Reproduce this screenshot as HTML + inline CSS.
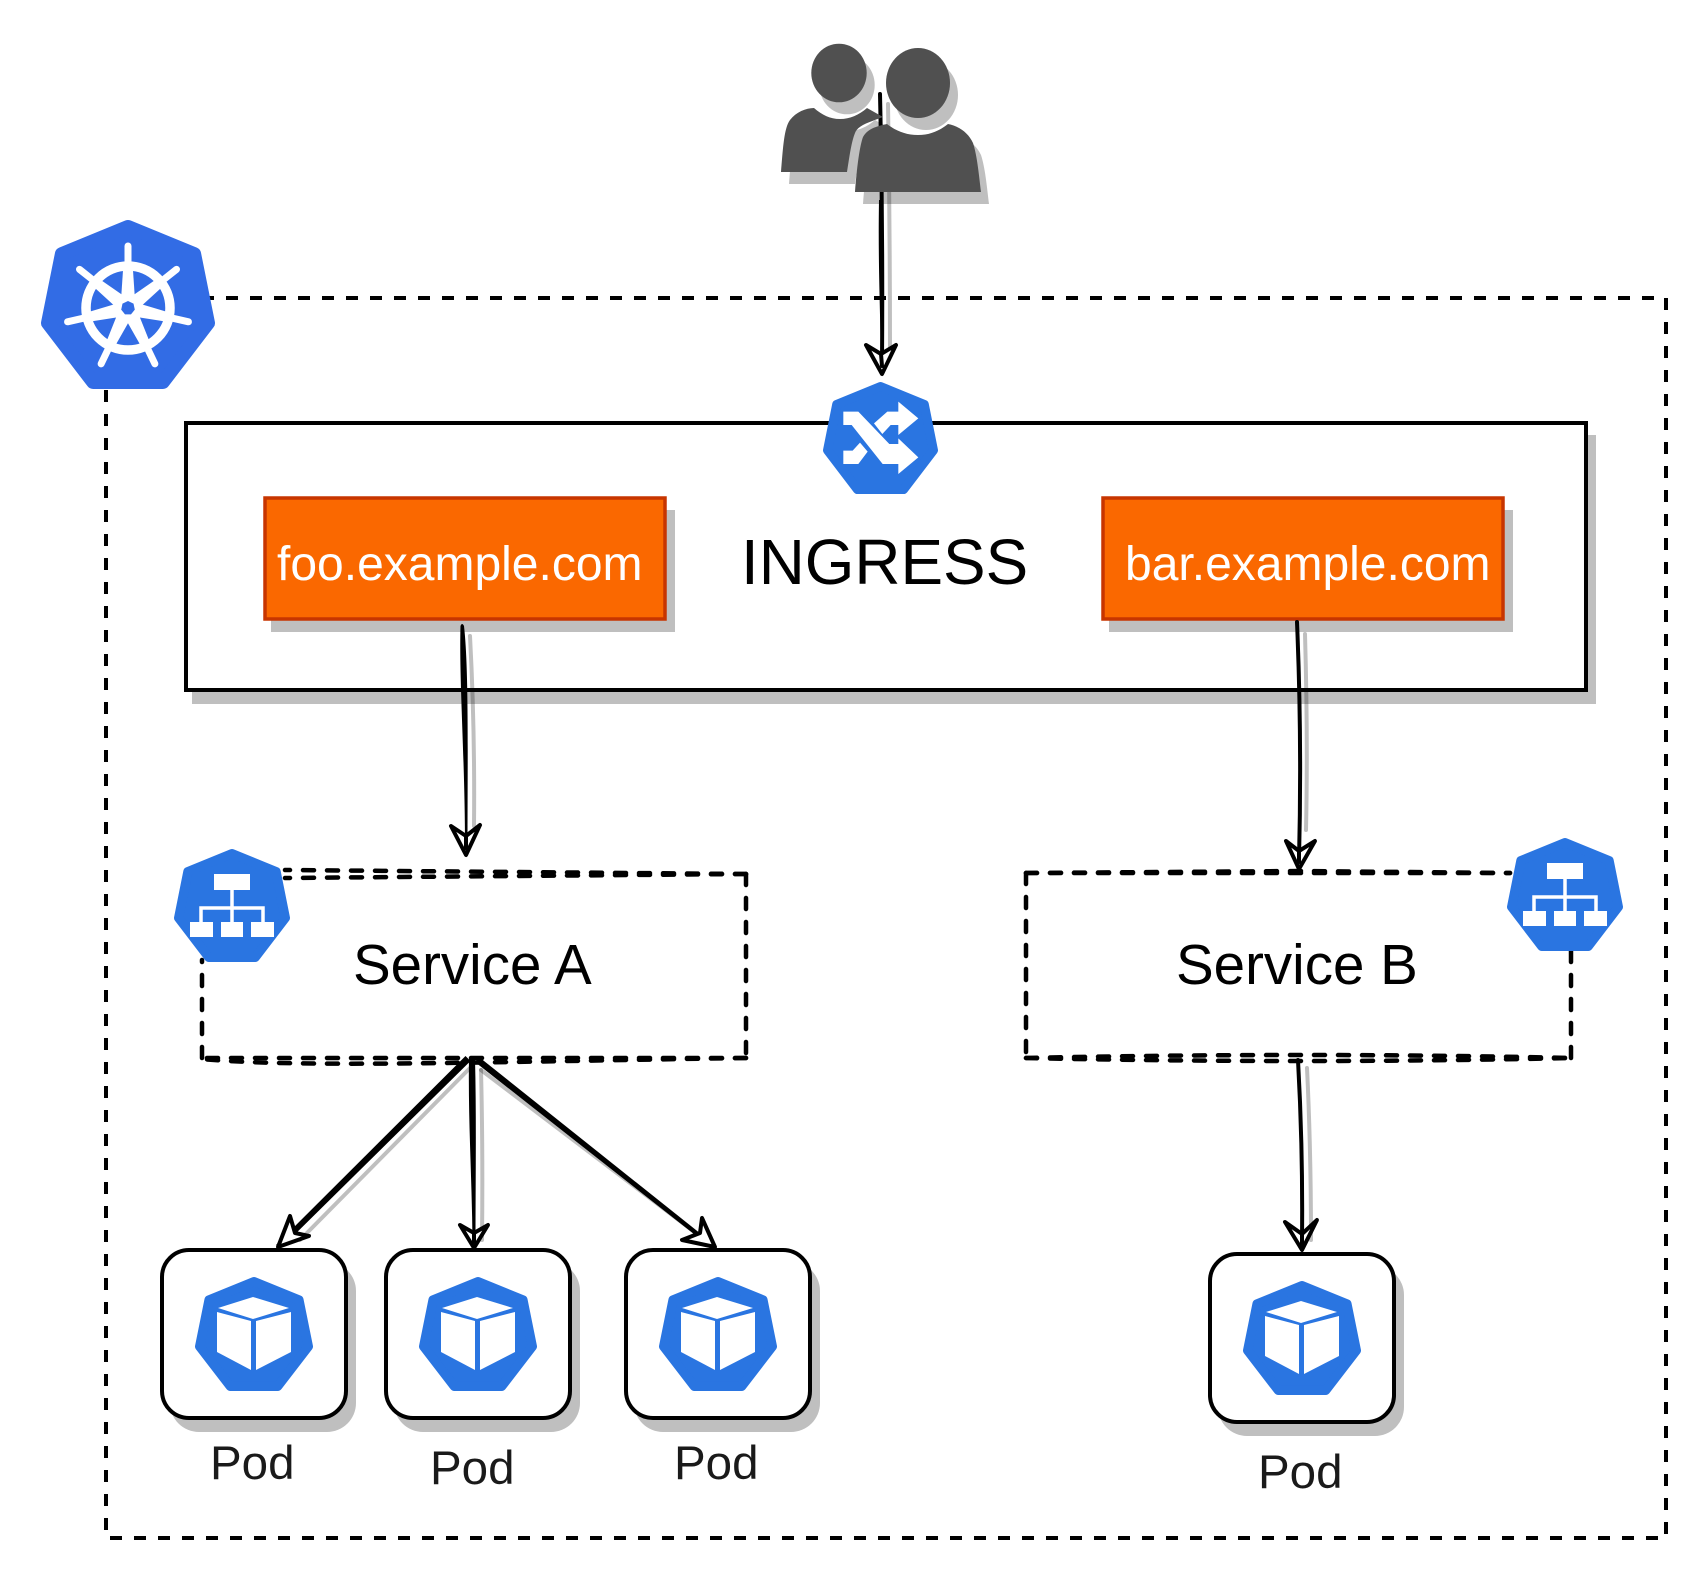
<!DOCTYPE html>
<html><head><meta charset="utf-8"><style>
html,body{margin:0;padding:0;background:#fff;width:1708px;height:1580px;overflow:hidden}
svg{display:block}
text{font-family:"Liberation Sans",sans-serif}
.d{fill:none;stroke:#000;stroke-width:4.5;stroke-dasharray:11 13;stroke-linecap:round}
.l{fill:none;stroke:#000;stroke-width:4;stroke-linecap:round}
.s{fill:none;stroke:#000;stroke-opacity:.25;stroke-width:4;stroke-linecap:round}
.a{fill:#fff;stroke:#000;stroke-width:4;stroke-linejoin:round}
</style></head><body>
<svg xmlns="http://www.w3.org/2000/svg" width="1708" height="1580" viewBox="0 0 1708 1580">
<defs>
<polygon id="h" points="50,4 88,20 96,61 70,96 30,96 4,61 12,20" stroke-width="8" stroke-linejoin="round"/>
<g id="pod">
<rect x="170" y="1262" width="186" height="170" rx="29" fill="#000" fill-opacity=".25"/>
<rect x="162" y="1250" width="184" height="168" rx="27" fill="#fff" stroke="#000" stroke-width="4"/>
<g transform="translate(195,1277) scale(1.18,1.14)"><use href="#h" fill="#2a75e1" stroke="#2a75e1"/></g>
<polygon points="218,1308 253,1297 289,1308 253,1319" fill="#fff"/>
<polygon points="217,1312 251,1321 251,1370 217,1352" fill="#fff"/>
<polygon points="256,1321 291,1312 291,1352 256,1370" fill="#fff"/>
</g>
<g id="svc">
<g transform="translate(174,849) scale(1.16,1.13)"><use href="#h" fill="#2a75e1" stroke="#2a75e1"/></g>
<rect x="214" y="874" width="36" height="16" fill="#fff"/>
<rect x="190" y="922" width="23" height="15" fill="#fff"/>
<rect x="221" y="922" width="22" height="15" fill="#fff"/>
<rect x="251" y="922" width="23" height="15" fill="#fff"/>
<path d="M232 890V922M201 922V908H263V922" fill="none" stroke="#fff" stroke-width="3.5"/>
</g>
<g id="sp">
<polygon points="-7,-8 7,-8 4.500,-45 -4.500,-45" fill="#fff"/>
<line x1="0" y1="-44" x2="0" y2="-62" stroke="#fff" stroke-width="7" stroke-linecap="round"/>
</g>
</defs>

<!-- outer dashed -->
<rect x="106" y="298" width="1560" height="1240" fill="none" stroke="#000" stroke-width="4" stroke-dasharray="12 12"/>

<!-- ingress box -->
<rect x="192" y="435" width="1404" height="269" fill="#000" fill-opacity=".25"/>
<rect x="186" y="423" width="1400" height="267" fill="#fff" stroke="#000" stroke-width="4"/>

<!-- orange boxes -->
<rect x="271" y="510" width="404" height="122" fill="#000" fill-opacity=".25"/>
<rect x="265" y="498" width="400" height="121" fill="#fa6800" stroke="#c73500" stroke-width="3.5"/>
<rect x="1109" y="510" width="404" height="122" fill="#000" fill-opacity=".25"/>
<rect x="1103" y="498" width="400" height="121" fill="#fa6800" stroke="#c73500" stroke-width="3.5"/>
<text x="277" y="580" font-size="48" fill="#fff">foo.example.com</text>
<text x="1125" y="580" font-size="48" fill="#fff">bar.example.com</text>
<text x="741" y="584" font-size="63.8" fill="#000">INGRESS</text>

<!-- main arrow through persons -->
<path class="s" d="M888 104Q890 230 890 350"/>
<path class="l" d="M880 94Q883 230 882 364" stroke-width="4"/>
<path d="M879 200C878 260 880 300 881 360L883 360C883 300 883 260 883 200Z" fill="#000"/>

<!-- persons -->
<g fill="#000" fill-opacity=".25" transform="translate(8,12)">
<path d="M781 172C783 148 784 128 790 120C796 112 806 108 814 108C822 115 830 119 840 119C850 119 859 115 867 108L883 117C870 122 858 125 855 133C851 143 849 160 847 172Z"/>
<ellipse cx="839" cy="73" rx="27.7" ry="29.3"/>
<path d="M855 192C857 165 860 145 863 137C868 128 878 126 887 124C896 131 906 135 918 135C930 135 939 131 948 124C958 126 968 132 973 143C977 155 979 175 981 192Z"/>
<ellipse cx="918" cy="83" rx="32" ry="35"/>
</g>
<g fill="#505050">
<path d="M781 172C783 148 784 128 790 120C796 112 806 108 814 108C822 115 830 119 840 119C850 119 859 115 867 108L883 117C870 122 858 125 855 133C851 143 849 160 847 172Z"/>
<ellipse cx="839" cy="73" rx="27.7" ry="29.3"/>
<path d="M855 192C857 165 860 145 863 137C868 128 878 126 887 124C896 131 906 135 918 135C930 135 939 131 948 124C958 126 968 132 973 143C977 155 979 175 981 192Z"/>
<ellipse cx="918" cy="83" rx="32" ry="35"/>
</g>
<path class="a" d="M882 374L866 345L881 354L896 345Z"/>
<path class="l" d="M881 354L882 366" stroke-width="3"/>

<!-- kubernetes icon -->
<g transform="translate(41,220) scale(1.74,1.69)"><use href="#h" fill="#326ce5" stroke="#326ce5"/></g>
<circle cx="128" cy="308" r="42" fill="none" stroke="#fff" stroke-width="9.500"/>
<g transform="translate(128,308)">
<use href="#sp"/>
<use href="#sp" transform="rotate(51.43)"/>
<use href="#sp" transform="rotate(102.86)"/>
<use href="#sp" transform="rotate(154.29)"/>
<use href="#sp" transform="rotate(205.71)"/>
<use href="#sp" transform="rotate(257.14)"/>
<use href="#sp" transform="rotate(308.57)"/>
</g>
<circle cx="128" cy="308" r="14" fill="#fff"/>
<polygon points="128,301 133.500,303.600 134.800,309.600 131,314.400 125,314.400 121.200,309.600 122.500,303.600" fill="#326ce5"/>

<!-- ingress icon -->
<g transform="translate(823,382) scale(1.15,1.12)"><use href="#h" fill="#2a75e1" stroke="#2a75e1"/></g>
<g transform="translate(800,340) scale(.3333)" fill="#fff">
<polygon points="130,215 175,215 268,312 295,312 295,295 355,352 295,402 295,372 248,372 155,255 130,255"/>
<polygon points="130,332 158,332 180,308 203,335 175,372 130,372"/>
<polygon points="222,250 262,215 295,215 295,185 355,235 295,285 295,255 272,255 247,282"/>
</g>

<!-- foo -> service A -->
<path class="s" d="M470 636Q475 730 474 826" stroke-width="5"/>
<path d="M460.500 626Q462 622 464 626C469 670 467.500 760 467.500 846L465 846C465 760 459 680 460.500 626Z" fill="#000"/>
<path class="a" d="M466 855L451 826L466 836L480 825Z"/>
<path class="l" d="M466 836L466 848" stroke-width="3"/>

<!-- bar -> service B -->
<path class="s" d="M1305 634Q1308 740 1306 830"/>
<path class="l" d="M1297 622Q1302 740 1299 860"/>
<path class="a" d="M1299 869L1286 841L1299 851L1315 841Z"/>
<path class="l" d="M1299 851L1299 862" stroke-width="3"/>

<!-- service A -->
<path class="d" d="M746 874L285 870"/>
<path class="d" d="M746 874L285 878"/>
<path class="d" d="M746 874L746 1058"/>
<path class="d" d="M746 1058L202 1058"/>
<path class="d" d="M746 1058C480 1062 300 1068 202 1059"/>
<path class="d" d="M202 1058L202 960"/>
<use href="#svc"/>
<text x="353" y="984" font-size="56.500" fill="#000">Service A</text>

<!-- service B -->
<path class="d" d="M1026 873L1300 871L1510 873"/>
<path class="d" d="M1026 873L1510 873"/>
<path class="d" d="M1026 873L1026 1058"/>
<path class="d" d="M1026 1058Q1300 1052 1571 1058"/>
<path class="d" d="M1026 1058Q1300 1064 1571 1058"/>
<path class="d" d="M1571 1058L1571 950"/>
<use href="#svc" x="1333" y="-11"/>
<text x="1176" y="984" font-size="56.500" fill="#000">Service B</text>

<!-- service A to pods -->
<path class="s" d="M470 1068L300 1240" stroke-width="4"/>
<path d="M465.500 1056L470.500 1061L280 1249L276 1245Z" fill="#000"/>
<path class="s" d="M481 1070Q483 1150 482 1240" stroke-width="5"/>
<path d="M469 1058L475 1058C476.500 1120 475.500 1180 475.500 1242L472.500 1242C472 1180 468 1120 469 1058Z" fill="#000"/>
<path class="s" d="M481 1070L705 1240"/>
<path d="M475 1062L479 1057L716 1246L713 1249Z" fill="#000"/>
<path class="a" d="M278 1247L290 1216L295 1233L309 1236Z"/>
<path class="a" d="M474 1248L460 1225L474 1233L488 1225Z"/>
<path class="l" d="M474 1233L474 1242" stroke-width="3"/>
<path class="a" d="M715 1247L702 1218L700 1233L682 1240Z"/>

<!-- service B to pod -->
<path class="s" d="M1307 1068Q1311 1150 1311 1240"/>
<path class="l" d="M1298 1060Q1303 1150 1302 1240"/>
<path class="a" d="M1302 1250L1285 1222L1302 1234L1317 1220Z"/>
<path class="l" d="M1302 1234L1302 1244" stroke-width="3"/>

<!-- pods -->
<use href="#pod"/>
<use href="#pod" x="224"/>
<use href="#pod" x="464"/>
<use href="#pod" x="1048" y="4"/>
<g font-size="47.500" fill="#1a1a1a">
<text x="210" y="1479">Pod</text>
<text x="430" y="1484">Pod</text>
<text x="674" y="1479">Pod</text>
<text x="1258" y="1488">Pod</text>
</g>
</svg>
</body></html>
